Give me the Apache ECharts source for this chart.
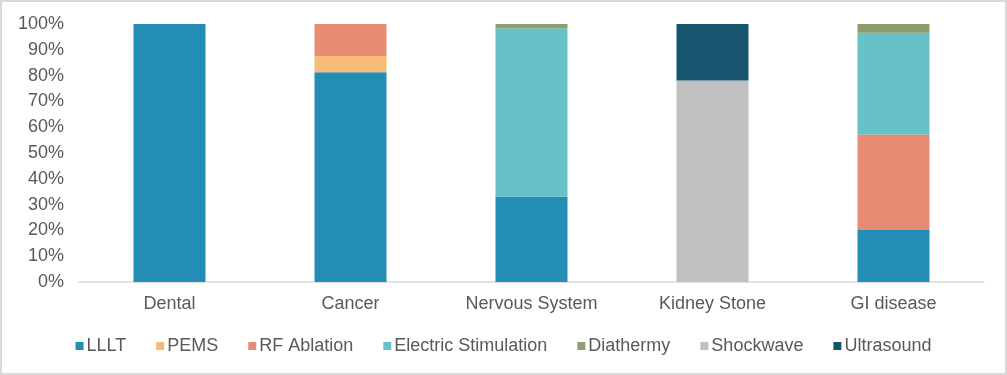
<!DOCTYPE html>
<html><head><meta charset="utf-8">
<script src="https://cdn.jsdelivr.net/npm/echarts@6/dist/echarts.min.js"></script>
<style>html,body{margin:0;padding:0;background:#fff}#c{width:1007px;height:375px;box-sizing:border-box;border:2px solid #d9d9d9}</style>
</head><body><div id="c"></div>
<script>
const categories = ['Dental','Cancer','Nervous System','Kidney Stone','GI disease'];
const LLLT = [100, 81.3, 33.0, 0, 20.2];
const PEMS = [0, 6.3, 0, 0, 0];
const RFAblation = [0, 12.4, 0, 0, 37.0];
const ElectricStimulation = [0, 0, 65.4, 0, 39.4];
const Diathermy = [0, 0, 1.6, 0, 3.4];
const Shockwave = [0, 0, 0, 78.1, 0];
const Ultrasound = [0, 0, 0, 21.9, 0];
const yTicks = [0,10,20,30,40,50,60,70,80,90,100];

const seriesDefs = [
  ['LLLT', LLLT, '#238DB5'],
  ['PEMS', PEMS, '#F6BB76'],
  ['RF Ablation', RFAblation, '#E88B73'],
  ['Electric Stimulation', ElectricStimulation, '#67C2C7'],
  ['Diathermy', Diathermy, '#8D9E6E'],
  ['Shockwave', Shockwave, '#C0C0C0'],
  ['Ultrasound', Ultrasound, '#17546E']
];
const font = 'Liberation Sans, Arial, sans-serif';
const chart = echarts.init(document.getElementById('c'));
chart.setOption({
  animation:false,
  grid:{left:77,right:21,top:22,bottom:91},
  legend:{bottom:13,left:'center',icon:'rect',itemWidth:8,itemHeight:8,itemGap:30,
    textStyle:{fontFamily:font,fontSize:18,color:'#595959',padding:[0,0,0,-2]},
    data:seriesDefs.map(s=>s[0])},
  xAxis:{type:'category',data:categories,
    axisLine:{lineStyle:{color:'#d9d9d9',width:1.5}},axisTick:{show:false},
    axisLabel:{fontFamily:font,fontSize:18,color:'#595959',margin:13}},
  yAxis:{type:'value',min:0,max:100,interval:10,
    splitLine:{show:false},axisLine:{show:false},axisTick:{show:false},
    axisLabel:{fontFamily:font,fontSize:18,color:'#595959',margin:15,formatter:v=>yTicks.includes(v)?v+'%':''}},
  series:seriesDefs.map(s=>({name:s[0],type:'bar',stack:'t',barWidth:72,
    data:s[1],itemStyle:{color:s[2]}}))
});
</script></body></html>
